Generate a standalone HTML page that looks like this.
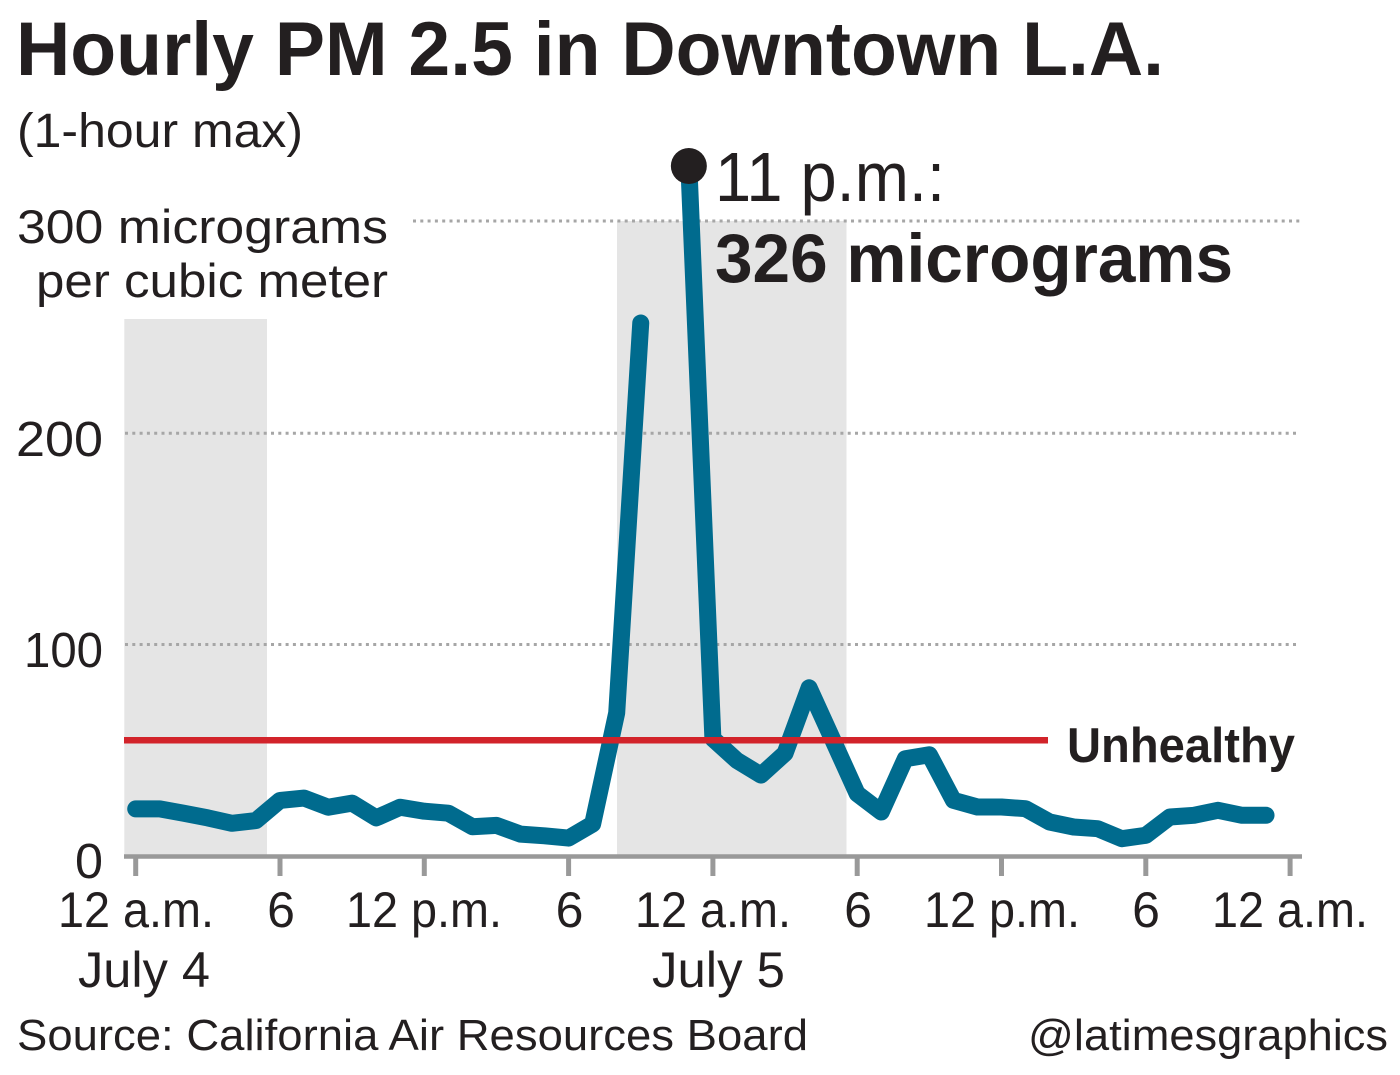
<!DOCTYPE html>
<html>
<head>
<meta charset="utf-8">
<style>
  html, body { margin: 0; padding: 0; background: #ffffff; }
  body { width: 1400px; height: 1075px; overflow: hidden; }
  svg { display: block; }
  text { font-family: "Liberation Sans", "DejaVu Sans", sans-serif; fill: #231f20; }
</style>
</head>
<body>
<svg width="1400" height="1075" viewBox="0 0 1400 1075" xmlns="http://www.w3.org/2000/svg">
  <rect x="0" y="0" width="1400" height="1075" fill="#ffffff"/>

  <!-- Title -->
  <text x="16" y="75" font-size="76" font-weight="bold" textLength="1148" lengthAdjust="spacingAndGlyphs">Hourly PM 2.5 in Downtown L.A.</text>
  <text x="17" y="147" font-size="48" textLength="286" lengthAdjust="spacingAndGlyphs">(1-hour max)</text>

  <!-- Night bands -->
  <rect x="124.3" y="319" width="142.7" height="538" fill="#e5e5e5"/>
  <rect x="617" y="221" width="229.5" height="636" fill="#e5e5e5"/>

  <!-- Gridlines -->
  <g stroke="#a6a6a6" stroke-width="3" stroke-dasharray="3 4.3" fill="none">
    <line x1="413" y1="221" x2="1300" y2="221"/>
    <line x1="125" y1="433.3" x2="1300" y2="433.3"/>
    <line x1="125" y1="644.5" x2="1300" y2="644.5"/>
  </g>

  <!-- Y labels -->
  <text x="17" y="243" font-size="47" textLength="371" lengthAdjust="spacingAndGlyphs">300 micrograms</text>
  <text x="36" y="297" font-size="47" textLength="352" lengthAdjust="spacingAndGlyphs">per cubic meter</text>
  <text x="16" y="456" font-size="49" textLength="87" lengthAdjust="spacingAndGlyphs">200</text>
  <text x="24" y="667" font-size="49" textLength="79" lengthAdjust="spacingAndGlyphs">100</text>
  <text x="75" y="878" font-size="49" textLength="28" lengthAdjust="spacingAndGlyphs">0</text>

  <!-- X axis -->
  <line x1="124" y1="856.5" x2="1302" y2="856.5" stroke="#999999" stroke-width="4.5"/>
  <g stroke="#999999" stroke-width="5">
    <line x1="135.7" y1="857" x2="135.7" y2="876"/>
    <line x1="280" y1="857" x2="280" y2="876"/>
    <line x1="424.3" y1="857" x2="424.3" y2="876"/>
    <line x1="568.6" y1="857" x2="568.6" y2="876"/>
    <line x1="712.9" y1="857" x2="712.9" y2="876"/>
    <line x1="857.2" y1="857" x2="857.2" y2="876"/>
    <line x1="1001.5" y1="857" x2="1001.5" y2="876"/>
    <line x1="1145.8" y1="857" x2="1145.8" y2="876"/>
    <line x1="1290.1" y1="857" x2="1290.1" y2="876"/>
  </g>

  <!-- X labels -->
  <g font-size="50">
    <text x="58" y="927" textLength="156" lengthAdjust="spacingAndGlyphs">12 a.m.</text>
    <text x="281" y="927" text-anchor="middle">6</text>
    <text x="346" y="927" textLength="156" lengthAdjust="spacingAndGlyphs">12 p.m.</text>
    <text x="569.5" y="927" text-anchor="middle">6</text>
    <text x="635" y="927" textLength="156" lengthAdjust="spacingAndGlyphs">12 a.m.</text>
    <text x="858" y="927" text-anchor="middle">6</text>
    <text x="924" y="927" textLength="156" lengthAdjust="spacingAndGlyphs">12 p.m.</text>
    <text x="1146" y="927" text-anchor="middle">6</text>
    <text x="1212" y="927" textLength="156" lengthAdjust="spacingAndGlyphs">12 a.m.</text>
    <text x="78" y="987" textLength="132" lengthAdjust="spacingAndGlyphs">July 4</text>
    <text x="652" y="987" textLength="133" lengthAdjust="spacingAndGlyphs">July 5</text>
  </g>

  <!-- Data line -->
  <g fill="none" stroke="#006b8e" stroke-width="17" stroke-linejoin="round" stroke-linecap="round">
    <polyline points="135.7,808.9 159.75,808.9 183.8,813.2 207.85,817.9 231.9,823.3 255.95,820.6 280,800.4 304.05,798.1 328.1,807.2 352.15,803.1 376.2,817.9 400.25,807.2 424.3,811.2 448.35,813.2 472.4,826.7 496.45,825.4 520.5,834.1 544.55,835.8 568.6,838.1 592.65,824 616.7,712.9 640.75,323"/>
    <polyline points="688.85,166 712.9,738.7 736.95,760.5 761,775.1 785.05,753.3 809.1,687.8 833.15,740.7 857.2,793.7 881.25,812 905.3,758.7 929.35,754.7 953.4,800.3 977.45,807 1001.5,807 1025.55,808.7 1049.6,822 1073.65,827 1097.7,828.7 1121.75,838.7 1145.8,835.3 1169.85,817 1193.9,815.3 1217.95,810.3 1242,815.3 1266.05,815.3"/>
  </g>

  <!-- Unhealthy threshold -->
  <line x1="124" y1="740.3" x2="1048" y2="740.3" stroke="#d2232a" stroke-width="6.5"/>
  <text x="1067" y="762" font-size="49" font-weight="bold" textLength="228" lengthAdjust="spacingAndGlyphs">Unhealthy</text>

  <!-- Peak annotation -->
  <circle cx="688.85" cy="166" r="18" fill="#231f20"/>
  <text x="715" y="201" font-size="70" textLength="230" lengthAdjust="spacingAndGlyphs">11 p.m.:</text>
  <text x="715" y="282" font-size="69" font-weight="bold" textLength="518" lengthAdjust="spacingAndGlyphs">326 micrograms</text>

  <!-- Footer -->
  <text x="17" y="1050" font-size="44" textLength="791" lengthAdjust="spacingAndGlyphs">Source: California Air Resources Board</text>
  <text x="1028" y="1050" font-size="44" textLength="360" lengthAdjust="spacingAndGlyphs">@latimesgraphics</text>
</svg>
</body>
</html>
